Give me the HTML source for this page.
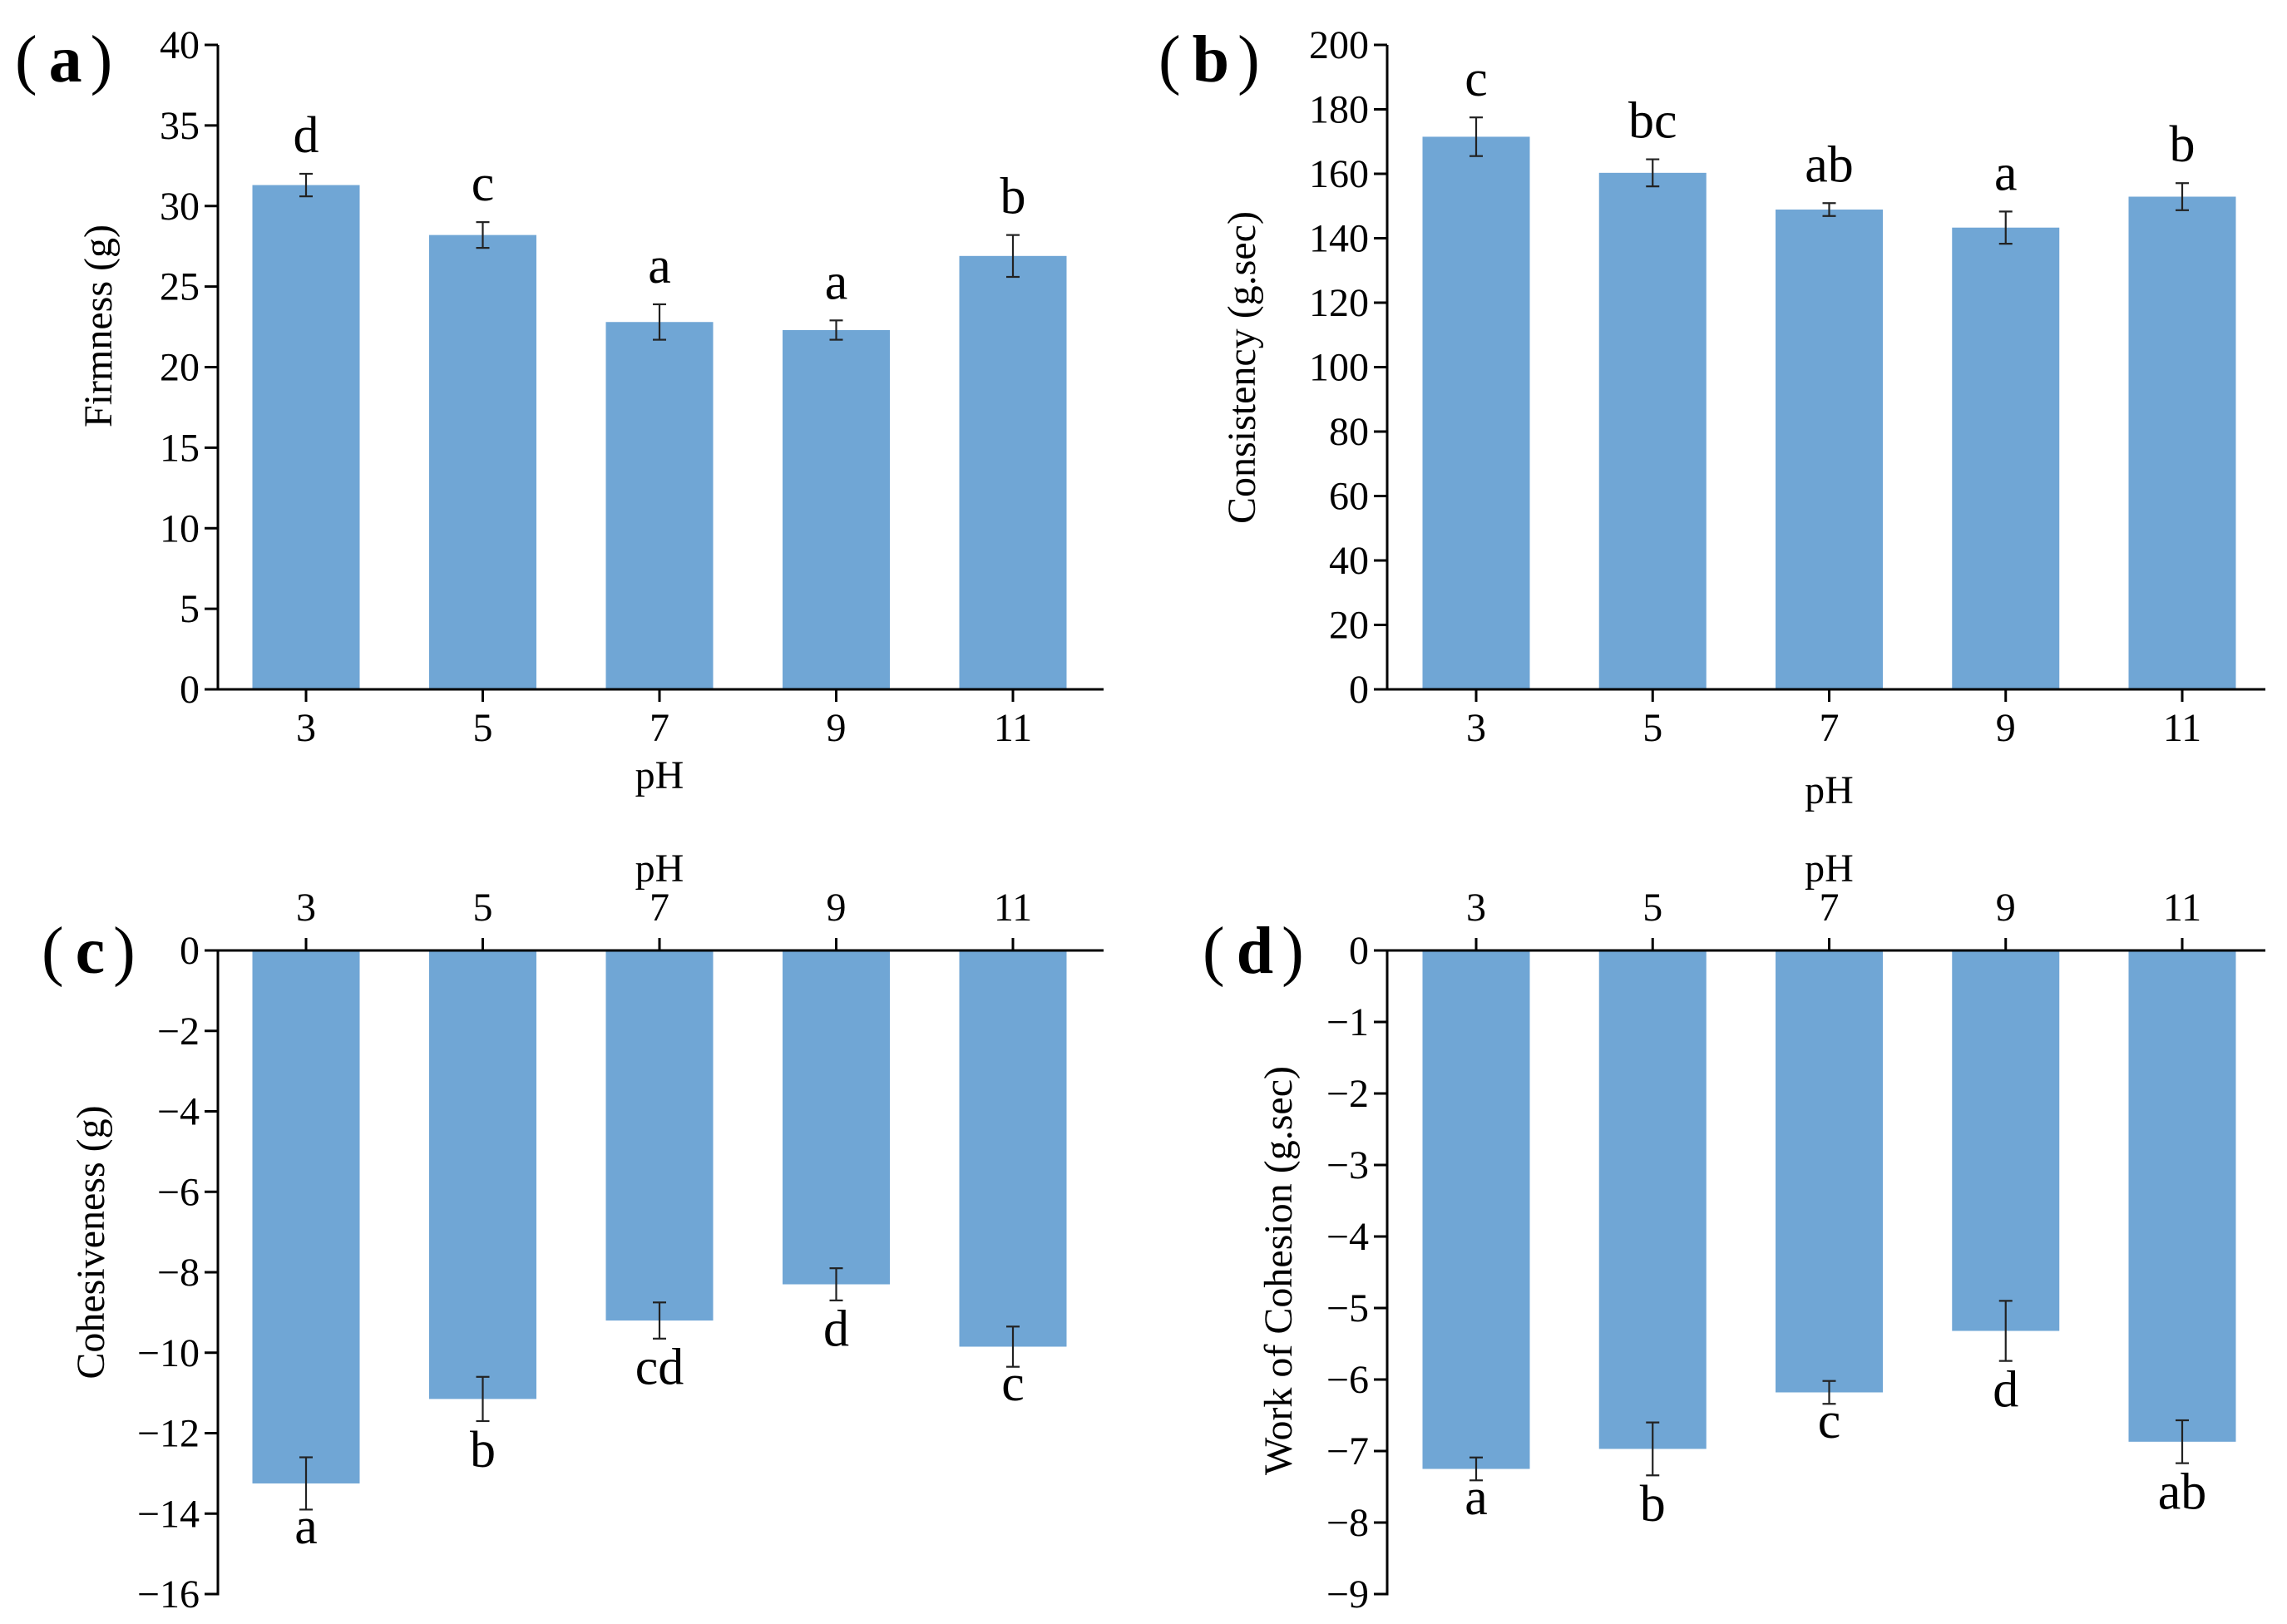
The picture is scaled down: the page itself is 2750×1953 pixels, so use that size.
<!DOCTYPE html>
<html><head><meta charset="utf-8">
<style>
html,body{margin:0;padding:0;background:#fff;}
svg{display:block;}
svg text{font-family:"Liberation Serif","DejaVu Serif",serif;}
</style></head>
<body>
<svg id="fig" width="2750" height="1953" viewBox="0 0 2750 1953" xmlns="http://www.w3.org/2000/svg"></svg>
<script>
const categories = ["3","5","7","9","11"];
const firmnessValues = [31.3, 28.2, 22.8, 22.3, 26.9];
const firmnessErrors = [0.7, 0.8, 1.1, 0.6, 1.3];
const firmnessLetters = ["d","c","a","a","b"];
const firmnessTicks = [0,5,10,15,20,25,30,35,40];
const consistencyValues = [171.5, 160.3, 148.9, 143.3, 152.9];
const consistencyErrors = [6.0, 4.2, 2.0, 5.0, 4.2];
const consistencyLetters = ["c","bc","ab","a","b"];
const consistencyTicks = [0,20,40,60,80,100,120,140,160,180,200];
const cohesivenessValues = [-13.25, -11.15, -9.2, -8.3, -9.85];
const cohesivenessErrors = [0.65, 0.55, 0.45, 0.4, 0.5];
const cohesivenessLetters = ["a","b","cd","d","c"];
const cohesivenessTicks = [0,-2,-4,-6,-8,-10,-12,-14,-16];
const workValues = [-7.25, -6.97, -6.18, -5.32, -6.87];
const workErrors = [0.16, 0.37, 0.16, 0.42, 0.3];
const workLetters = ["a","b","c","d","ab"];
const workTicks = [0,-1,-2,-3,-4,-5,-6,-7,-8,-9];

const NS = "http://www.w3.org/2000/svg";
const svg = document.getElementById("fig");
const FONT = "Liberation Serif, DejaVu Serif, serif";
function mk(tag, attrs, parent, text){
  const e = document.createElementNS(NS, tag);
  for (const k in attrs) e.setAttribute(k, attrs[k]);
  if (tag === "text") e.setAttribute("font-family", FONT);
  if (text !== undefined) e.textContent = text;
  (parent || svg).appendChild(e);
  return e;
}
function fmt(v){ return v < 0 ? "\u2212" + Math.abs(v) : String(v); }

function panel(o){
  const g = mk("g", {});
  
  
  const yMin = Math.min(...o.ticks), yMax = Math.max(...o.ticks);
  const yScale = v => o.yBottom - (v - yMin) / (yMax - yMin) * (o.yBottom - o.yTop);
  const xStep = (o.lastCenter - o.firstCenter) / (categories.length - 1);
  const xScale = i => o.firstCenter + i * xStep;
  const zeroY = yScale(0);
  const bw = 129;
  o.values.forEach((v, i) => {
    const y0 = Math.min(yScale(v), zeroY), h = Math.abs(yScale(v) - zeroY);
    const r = mk("rect", {x: xScale(i) - bw/2, y: y0, width: bw, height: h, fill: "#70a6d5"}, g);
    
    
  });
  o.values.forEach((v, i) => {
    const e = o.errors[i], cx = xScale(i);
    const eg = mk("g", {stroke: "#222", "stroke-width": 2.2, fill: "none"}, g);
    
    
    const yt = yScale(v + e), yb = yScale(v - e);
    mk("line", {x1: cx, x2: cx, y1: yt, y2: yb}, eg);
    mk("line", {x1: cx - 8, x2: cx + 8, y1: yt, y2: yt}, eg);
    mk("line", {x1: cx - 8, x2: cx + 8, y1: yb, y2: yb}, eg);
  });
  o.letters.forEach((L, i) => {
    const v = o.values[i], e = o.errors[i];
    let y;
    if (v >= 0) y = yScale(v + e) - 26;
    else {
      const asc = /[bdhkl]/.test(L);
      y = yScale(v - e) + 12 + (asc ? 0.69 : 0.46) * 62;
    }
    const t = mk("text", {x: xScale(i), y: y, "font-size": 62, "text-anchor": "middle", fill: "#000"}, g, L);
    
    
  });
  const ax = mk("g", {stroke: "#000", "stroke-width": 3, fill: "none"}, g);
  
  
  mk("line", {x1: o.axisX, x2: o.axisX, y1: o.yTop, y2: o.yBottom + 1.5}, ax);
  mk("line", {x1: o.axisX - 1.5, x2: o.axisRight, y1: zeroY, y2: zeroY}, ax);
  o.ticks.forEach(tv => {
    const y = yScale(tv);
    mk("line", {x1: o.axisX - 16, x2: o.axisX, y1: y, y2: y}, ax);
    const t = mk("text", {x: o.axisX - 22, y: y + 16, "font-size": 48, "text-anchor": "end", fill: "#000"}, g, fmt(tv));
    
    
  });
  categories.forEach((c, i) => {
    const x = xScale(i);
    if (o.top) mk("line", {x1: x, x2: x, y1: zeroY - 15, y2: zeroY}, ax);
    else mk("line", {x1: x, x2: x, y1: zeroY, y2: zeroY + 15}, ax);
    const ty = o.top ? zeroY - 36 : zeroY + 62;
    const t = mk("text", {x: x, y: ty, "font-size": 48, "text-anchor": "middle", fill: "#000"}, g, c);
    
    
  });
  const xt = mk("text", {x: xScale(2), y: o.pHY, "font-size": 48, "text-anchor": "middle", fill: "#000"}, g, "pH");
  
  
  const yt = mk("text", {x: 0, y: 0, "font-size": 48, "text-anchor": "middle", fill: "#000",
    transform: "translate(" + (o.titleX + 16) + "," + o.titleY + ") rotate(-90)"}, g, o.yTitle);
  
  
  const pl = mk("text", {x: o.labelX, y: o.labelY, "font-size": 80, fill: "#000"}, g);
  
  
  mk("tspan", {}, pl, "(");
  mk("tspan", {"font-weight": "bold", dx: 14}, pl, o.label);
  mk("tspan", {dx: 10}, pl, ")");
}

panel({name:"panel-a-firmness", values: firmnessValues, errors: firmnessErrors, letters: firmnessLetters, ticks: firmnessTicks,
  yTop: 54, yBottom: 829, axisX: 262, axisRight: 1327, firstCenter: 368, lastCenter: 1218, top: false,
  pHY: 948, yTitle: "Firmness (g)", titleX: 118, titleY: 392, label: "a", labelX: 18, labelY: 98});
panel({name:"panel-b-consistency", values: consistencyValues, errors: consistencyErrors, letters: consistencyLetters, ticks: consistencyTicks,
  yTop: 54, yBottom: 829, axisX: 1668, axisRight: 2724, firstCenter: 1775, lastCenter: 2624, top: false,
  pHY: 966, yTitle: "Consistency (g.sec)", titleX: 1493, titleY: 442, label: "b", labelX: 1393, labelY: 98});
panel({name:"panel-c-cohesiveness", values: cohesivenessValues, errors: cohesivenessErrors, letters: cohesivenessLetters, ticks: cohesivenessTicks,
  yTop: 1143, yBottom: 1917, axisX: 262, axisRight: 1327, firstCenter: 368, lastCenter: 1218, top: true,
  pHY: 1060, yTitle: "Cohesiveness (g)", titleX: 109, titleY: 1494, label: "c", labelX: 50, labelY: 1170});
panel({name:"panel-d-work-of-cohesion", values: workValues, errors: workErrors, letters: workLetters, ticks: workTicks,
  yTop: 1143, yBottom: 1917, axisX: 1668, axisRight: 2724, firstCenter: 1775, lastCenter: 2624, top: true,
  pHY: 1060, yTitle: "Work of Cohesion (g.sec)", titleX: 1537, titleY: 1528, label: "d", labelX: 1446, labelY: 1170});
</script>
</body></html>
